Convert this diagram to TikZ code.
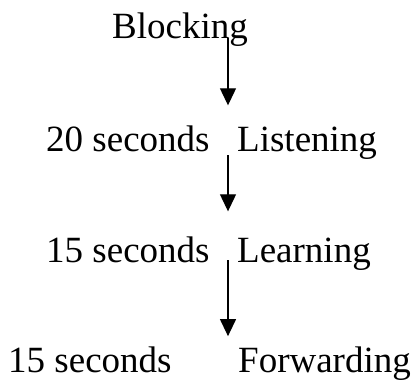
\documentclass[tikz,border=0pt]{standalone}
\usepackage{fontspec}
\setmainfont{Liberation Serif}
\usetikzlibrary{arrows.meta}

\begin{document}
\begin{tikzpicture}[x=1pt,y=-1pt,
  state/.style={inner sep=0pt,anchor=base west,font=\fontsize{37}{44}\selectfont},
  flow/.style={line width=1.2pt,-{Triangle[width=16pt,length=17pt]}}]
 \useasboundingbox[fill=white] (0,0) rectangle (412,381);
 % port states and timers
 \node[state] (block) at (112,38) {Blocking};
 \node[state] (t20) at (46,151) {20 seconds};
 \node[state] (listen) at (237,151) {Listening};
 \node[state] (t15a) at (46,262) {15 seconds};
 \node[state] (learn) at (237,262) {Learning};
 \node[state] (t15b) at (8,372) {15 seconds};
 \node[state] (fwd) at (238,372) {Forwarding};
 %
 \coordinate (rail) at (228,0);
 \draw[flow] (rail |- block.base) -- ([yshift=21pt]rail |- listen.north);
 \draw[flow] ([yshift=-4pt]rail |- listen.base) -- ([yshift=26pt]rail |- learn.north);
 \draw[flow] ([yshift=2pt]rail |- learn.base) -- ([yshift=10pt]rail |- fwd.north);
\end{tikzpicture}
\end{document}
